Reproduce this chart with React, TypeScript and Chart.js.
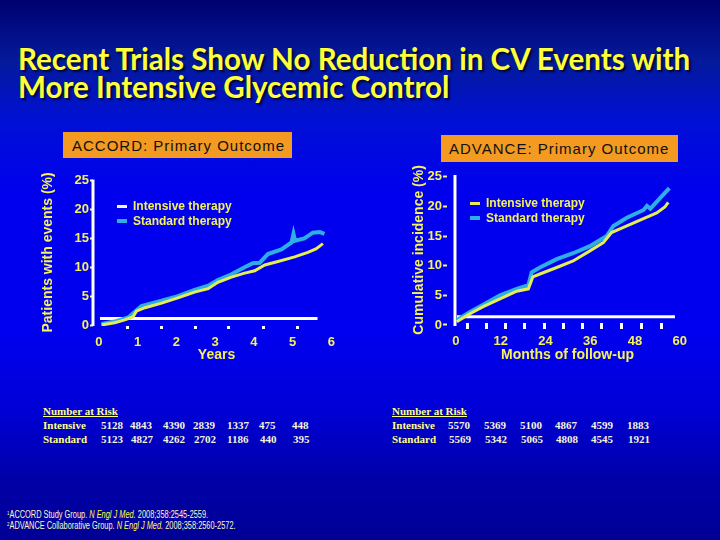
import React, { useEffect, useRef } from "react";
import Chart from "chart.js/auto";

// ---------- data ----------
const accordIntensive: [number, number][] = [
  [0.07, 0.0], [0.41, 0.4], [0.67, 0.9], [0.88, 1.4], [0.97, 2.4], [1.19, 3.0], [1.62, 3.8],
  [2.04, 4.7], [2.47, 5.7], [2.82, 6.3], [3.07, 7.4], [3.42, 8.3], [3.76, 9.0], [4.02, 9.4],
  [4.28, 10.4], [4.62, 11.0], [5.05, 11.8], [5.39, 12.6], [5.6, 13.2], [5.78, 14.1],
];
const accordStandard: [number, number][] = [
  [0.07, 0.2], [0.41, 0.6], [0.76, 1.3], [0.93, 2.3], [1.1, 3.3], [1.62, 4.2], [2.04, 5.0],
  [2.47, 6.1], [2.82, 6.8], [3.07, 7.8], [3.42, 8.8], [3.76, 10.0], [3.97, 10.7], [4.15, 10.8],
  [4.36, 12.3], [4.71, 13.1], [4.97, 14.3], [5.02, 15.8], [5.06, 14.6], [5.3, 15.0], [5.52, 16.0],
  [5.7, 16.1], [5.82, 15.8],
];
const advanceIntensive: [number, number][] = [
  [0.2, 0.55], [3.75, 1.9], [7.3, 3.1], [11.8, 4.4], [16.3, 5.7], [19.4, 6.1], [20.6, 8.1],
  [22.5, 8.6], [27, 9.7], [31.4, 10.8], [35.9, 12.5], [39.5, 13.9], [41.7, 15.6], [45.8, 16.7],
  [49.8, 17.8], [53.8, 18.9], [56, 19.9], [56.9, 20.7],
];
const advanceStandard: [number, number][] = [
  [0.2, 0.8], [3.75, 2.2], [7.3, 3.4], [11.8, 5.0], [16.3, 6.1], [19.4, 6.7], [20.3, 8.9],
  [22.5, 9.7], [27, 11.1], [31.4, 12.1], [35.9, 13.3], [40.4, 15.0], [42.2, 16.7], [45.8, 18.1],
  [50.3, 19.4], [51.2, 20.1], [52.1, 19.6], [54.7, 21.4], [57.2, 23.1],
];

const accordXTicks = [0, 1, 2, 3, 4, 5, 6];
const advanceXTicks = [0, 12, 24, 36, 48, 60];
const yTicks = [0, 5, 10, 15, 20, 25];

// axis lines drawn as in the slide: [x1, y1, x2, y2] in data units
const accordAxisLines: [number, number, number, number][] = [
  [-0.15, -0.17, -0.15, 25.2],
  [0.03, 1.15, 5.64, 1.15],
];
const advanceAxisLines: [number, number, number, number][] = [
  [-0.27, -0.17, -0.27, 25.3],
  [0.27, 1.38, 58.7, 1.38],
];
const accordMinorTicks = [0.75, 1.62, 2.5, 3.35, 4.25, 5.13];
const advanceMinorTicks = [3.2, 8.3, 13.4, 18.5, 23.6, 28.7, 34.0, 39.1, 44.5, 49.8, 55.2];

const seriesNames = ["Intensive therapy", "Standard therapy"];

const accordRisk = {
  intensive: ["5128", "4843", "4390", "2839", "1337", "475", "448"],
  standard: ["5123", "4827", "4262", "2702", "1186", "440", "395"],
};
const advanceRisk = {
  intensive: ["5570", "5369", "5100", "4867", "4599", "1883"],
  standard: ["5569", "5342", "5065", "4808", "4545", "1921"],
};

// ---------- styles ----------
const YELLOW_LINE = "#e6ee52";
const CYAN_LINE = "#2eaee6";
const LABEL = "#f6f25c";
const SANS = 'Arial, "Liberation Sans", sans-serif';

const decorPlugin = {
  id: "decor",
  beforeDatasetsDraw(chart: any, _args: any, opts: any) {
    const { ctx } = chart;
    const x = chart.scales.x;
    const y = chart.scales.y;
    ctx.save();
    ctx.strokeStyle = "#ffffff";
    ctx.lineWidth = 3;
    for (const s of opts.lines || []) {
      ctx.beginPath();
      ctx.moveTo(x.getPixelForValue(s[0]), y.getPixelForValue(s[1]));
      ctx.lineTo(x.getPixelForValue(s[2]), y.getPixelForValue(s[3]));
      ctx.stroke();
    }
    ctx.fillStyle = "#ffffff";
    for (const v of opts.marks || []) {
      const px = x.getPixelForValue(v);
      const py = y.getPixelForValue(opts.markY);
      ctx.fillRect(Math.round(px - opts.markW / 2), Math.round(py - opts.markH / 2), opts.markW, opts.markH);
    }
    ctx.restore();
  },
};

function makeConfig(p: any) {
  return {
    type: "line",
    data: {
      datasets: [
        {
          label: seriesNames[0],
          data: p.intensive.map(([x, y]: number[]) => ({ x, y })),
          borderColor: YELLOW_LINE,
          borderWidth: 3,
          pointRadius: 0,
          tension: 0,
        },
        {
          label: seriesNames[1],
          data: p.standard.map(([x, y]: number[]) => ({ x, y })),
          borderColor: CYAN_LINE,
          borderWidth: 4,
          pointRadius: 0,
          tension: 0,
        },
      ],
    },
    options: {
      responsive: false,
      animation: false,
      devicePixelRatio: 1,
      layout: { padding: p.padding },
      plugins: {
        legend: { display: false },
        tooltip: { enabled: false },
        decor: { lines: p.lines, marks: p.marks, markY: p.markY, markW: p.markW, markH: p.markH },
      },
      scales: {
        x: {
          type: "linear",
          min: p.xMin,
          max: p.xMax,
          afterBuildTicks: (axis: any) => {
            axis.ticks = p.xTicks.map((v: number) => ({ value: v }));
          },
          afterFit: (s: any) => {
            s.height = p.xHeight;
          },
          grid: { display: false },
          border: { display: false },
          ticks: {
            color: LABEL,
            font: { family: SANS, size: 13, weight: "bold" },
            padding: p.xTickPad,
            maxRotation: 0,
            autoSkip: false,
          },
          title: {
            display: true,
            text: p.xTitle,
            color: LABEL,
            font: { family: SANS, size: 14, weight: "bold" },
            padding: { top: 0, bottom: 0 },
          },
        },
        y: {
          min: p.yMin,
          max: p.yMax,
          afterBuildTicks: (axis: any) => {
            axis.ticks = yTicks.map((v) => ({ value: v }));
          },
          afterFit: (s: any) => {
            s.width = p.yWidth;
          },
          grid: {
            display: true,
            drawOnChartArea: false,
            drawTicks: true,
            tickLength: p.tickLen,
            tickColor: "#f4f0a0",
            tickWidth: 2,
          },
          border: { display: false },
          ticks: {
            color: LABEL,
            font: { family: SANS, size: 13, weight: "bold" },
            padding: 1,
            autoSkip: false,
          },
          title: {
            display: true,
            text: p.yTitle,
            color: LABEL,
            font: { family: SANS, size: 14, weight: "bold" },
            padding: { top: p.yTitlePad, bottom: 0 },
          },
        },
      },
    },
    plugins: [decorPlugin],
  };
}

function KMChart(props: { left: number; top: number; width: number; height: number; params: any }) {
  const ref = useRef<HTMLCanvasElement>(null);
  useEffect(() => {
    if (!ref.current) return;
    const chart = new Chart(ref.current, makeConfig(props.params) as any);
    return () => chart.destroy();
  }, []);
  return (
    <canvas
      ref={ref}
      width={props.width}
      height={props.height}
      style={{ position: "absolute", left: props.left, top: props.top, width: props.width, height: props.height }}
    />
  );
}

const abs = (left: number, top: number, extra: any = {}) => ({ position: "absolute" as const, left, top, ...extra });

function Legend({ left, top, firstColor }: { left: number; top: number; firstColor: string }) {
  const row = (color: string, h: number, text: string, y: number) => (
    <div style={abs(0, y, { display: "flex", alignItems: "center", height: 14 })}>
      <div style={{ width: 10, height: h, background: color, marginRight: 6 }} />
      <span style={{ fontFamily: SANS, fontWeight: "bold", fontSize: 12, color: LABEL, whiteSpace: "nowrap" }}>{text}</span>
    </div>
  );
  return (
    <div style={abs(left, top)}>
      {row(firstColor, 3, seriesNames[0], 0)}
      {row(CYAN_LINE, 4, seriesNames[1], 15)}
    </div>
  );
}

function RiskTable({ left, cols, risk }: { left: number; cols: number[][]; risk: { intensive: string[]; standard: string[] } }) {
  const font = { fontFamily: '"Liberation Serif", "Times New Roman", serif', fontWeight: "bold", fontSize: 11, lineHeight: "13px", whiteSpace: "nowrap" as const };
  return (
    <>
      <div style={abs(left, 405, { ...font, color: "#ffff80", textDecoration: "underline" })}>Number at Risk</div>
      <div style={abs(left, 419, { ...font, color: "#ffff80" })}>Intensive</div>
      <div style={abs(left, 433, { ...font, color: "#ffff80" })}>Standard</div>
      {risk.intensive.map((v, i) => (
        <div key={"i" + i} style={abs(cols[0][i], 419, { ...font, color: "#f6f4d8" })}>{v}</div>
      ))}
      {risk.standard.map((v, i) => (
        <div key={"s" + i} style={abs(cols[1][i], 433, { ...font, color: "#f6f4d8" })}>{v}</div>
      ))}
    </>
  );
}

export default function App() {
  const accordParams = {
    intensive: accordIntensive,
    standard: accordStandard,
    xMin: -0.15,
    xMax: 6.22,
    yMin: -0.17,
    yMax: 25.34,
    xTicks: accordXTicks,
    padding: { top: 7, right: 6, left: 0, bottom: 0 },
    xHeight: 38,
    yWidth: 57,
    xTickPad: 1,
    tickLen: 3,
    yTitlePad: 4,
    xTitle: "Years",
    yTitle: "Patients with events (%)",
    lines: accordAxisLines,
    marks: accordMinorTicks,
    markY: -0.43,
    markW: 3,
    markH: 3,
  };
  const advanceParams = {
    intensive: advanceIntensive,
    standard: advanceStandard,
    xMin: -2.41,
    xMax: 62.2,
    yMin: -0.17,
    yMax: 25.5,
    xTicks: advanceXTicks,
    padding: { top: 7, right: 7, left: 0, bottom: 0 },
    xHeight: 38,
    yWidth: 47,
    xTickPad: 0,
    tickLen: 4,
    yTitlePad: 11,
    xTitle: "Months of follow-up",
    yTitle: "Cumulative incidence (%)",
    lines: advanceAxisLines,
    marks: advanceMinorTicks,
    markY: -0.17,
    markW: 3,
    markH: 6,
  };

  const sup = { fontSize: 6, position: "relative" as const, top: -3 };

  return (
    <div
      style={{
        position: "fixed",
        left: 0,
        top: 0,
        width: 720,
        height: 540,
        overflow: "hidden",
        background:
          "linear-gradient(to bottom, #000070 0px, #041a9a 60px, #0010d4 120px, #0000ee 190px, #0000f0 330px, #0000d6 410px, #0000a8 480px, #000096 540px)",
      }}
    >
      <div
        style={abs(18, 44.5, {
          fontFamily: "Lato, sans-serif",
          fontWeight: 700,
          fontSize: 29.6,
          lineHeight: "28px",
          color: "#ffff3a",
          whiteSpace: "nowrap",
          textShadow: "2px 2px 2px rgba(0,0,0,0.7)",
        })}
      >
        Recent Trials Show No Reduction in CV Events with
        <br />
        More Intensive Glycemic Control
      </div>

      <div
        style={abs(63, 132, {
          width: 229,
          height: 26,
          background: "#f29a22",
          display: "flex",
          alignItems: "center",
          paddingLeft: 9,
          boxSizing: "border-box",
          fontFamily: SANS,
          fontSize: 15,
          letterSpacing: 1,
          color: "#111",
          whiteSpace: "nowrap",
        })}
      >
        ACCORD: Primary Outcome
      </div>
      <div
        style={abs(441, 135, {
          width: 237,
          height: 27,
          background: "#f29a22",
          display: "flex",
          alignItems: "center",
          paddingLeft: 8,
          boxSizing: "border-box",
          fontFamily: SANS,
          fontSize: 15,
          letterSpacing: 1,
          color: "#111",
          whiteSpace: "nowrap",
        })}
      >
        ADVANCE: Primary Outcome
      </div>

      <KMChart left={36} top={170} width={310} height={194} params={accordParams} />
      <KMChart left={400} top={165} width={295} height={199} params={advanceParams} />

      <Legend left={117} top={199} firstColor="#f4f4f4" />
      <Legend left={470} top={196} firstColor={YELLOW_LINE} />

      <RiskTable
        left={43}
        cols={[
          [101, 130, 163, 193, 227, 259, 292],
          [101, 131, 163, 194, 227, 260, 293],
        ]}
        risk={accordRisk}
      />
      <RiskTable
        left={392}
        cols={[
          [448, 484, 520, 555, 591, 627],
          [449, 485, 521, 556, 591, 628],
        ]}
        risk={advanceRisk}
      />

      <div
        style={abs(7, 510, {
          fontFamily: SANS,
          fontSize: 10,
          lineHeight: "10px",
          color: "#fbf8c8",
          whiteSpace: "nowrap",
          transform: "scaleX(0.74)",
          transformOrigin: "left top",
        })}
      >
        <div>
          <span style={sup}>1</span>ACCORD Study Group. <i style={{ color: "#ffff40" }}>N Engl J Med.</i> 2008;358:2545-2559.
        </div>
        <div>
          <span style={sup}>2</span>ADVANCE Collaborative Group. <i style={{ color: "#ffff40" }}>N Engl J Med.</i> 2008;358:2560-2572.
        </div>
      </div>
    </div>
  );
}
